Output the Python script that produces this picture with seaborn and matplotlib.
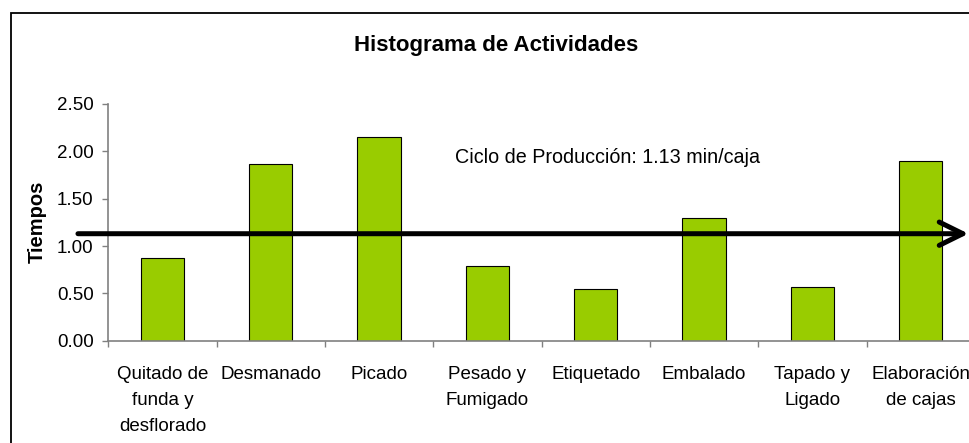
import matplotlib
matplotlib.use("Agg")
import matplotlib.pyplot as plt
from matplotlib.patches import Rectangle
from matplotlib.ticker import FixedLocator, FormatStrFormatter
import seaborn as sns
import pandas as pd

# Activity times (minutes per box)
activities = [
    "Quitado de\nfunda y\ndesflorado",
    "Desmanado",
    "Picado",
    "Pesado y\nFumigado",
    "Etiquetado",
    "Embalado",
    "Tapado y\nLigado",
    "Elaboración\nde cajas",
]
times = [0.87, 1.87, 2.15, 0.79, 0.55, 1.30, 0.57, 1.90]
cycle_time = 1.13
cycle_label = "Ciclo de Producción: 1.13 min/caja"
title = "Histograma de Actividades"
y_label = "Tiempos"
y_ticks = [0.0, 0.5, 1.0, 1.5, 2.0, 2.5]

sns.set_theme(style="white")
plt.rcParams["font.family"] = ["Liberation Sans", "DejaVu Sans"]
plt.rcParams["text.color"] = "black"

df = pd.DataFrame({"actividad": activities, "tiempo": times})

W, H = 970, 443
fig = plt.figure(figsize=(W / 100, H / 100), dpi=100)
ax = fig.add_axes([108.3 / W, (H - 340.7) / H, 866.7 / W, 236.7 / H])

sns.barplot(data=df, x="actividad", y="tiempo", color="#99CC00", saturation=1,
            width=0.4, edgecolor="black", linewidth=0.8, ax=ax, zorder=2)

ax.set_xlim(-0.5, len(activities) - 0.5)
ax.set_ylim(0, 2.5)
ax.set_yticks(y_ticks)
ax.yaxis.set_major_formatter(FormatStrFormatter("%.2f"))
ax.set_xlabel("")
ax.set_ylabel("")

# spines and ticks
for side in ["top", "right"]:
    ax.spines[side].set_visible(False)
for side in ["left", "bottom"]:
    ax.spines[side].set_color("#808080")
    ax.spines[side].set_linewidth(1.2)

ax.tick_params(axis="y", which="major", left=True, length=4.5, width=1,
               color="#808080", pad=6, labelsize=13.5, labelcolor="black")
ax.tick_params(axis="x", which="major", bottom=False, length=0, pad=18,
               labelsize=13.5, labelcolor="black")
ax.xaxis.set_minor_locator(FixedLocator([i - 0.5 for i in range(len(activities) + 1)]))
ax.tick_params(axis="x", which="minor", bottom=True, length=4.5, width=1,
               color="#808080")
for lbl in ax.get_xticklabels():
    lbl.set_linespacing(1.7)
    lbl.set_verticalalignment("top")

# production cycle arrow
ax.annotate("", xy=(7.44, cycle_time), xytext=(-0.78, cycle_time),
            xycoords="data", annotation_clip=False,
            arrowprops=dict(arrowstyle="->, head_length=0.85, head_width=0.42",
                            mutation_scale=20, lw=3.6, color="black",
                            shrinkA=0, shrinkB=0),
            zorder=5)
ax.text(2.70, 1.93, cycle_label, fontsize=14.2, ha="left", va="center", color="black")

fig.text(496.5 / W, 1 - 45 / H, title, fontsize=16, fontweight="bold",
         ha="center", va="center", color="black")
fig.text(37 / W, 1 - 222 / H, y_label, fontsize=14.5, fontweight="bold",
         rotation=90, ha="center", va="center", color="black")

# chart frame
fig.patches.append(Rectangle((11 / W, -0.2), 1.2, 1 - 13 / H + 0.2,
                             transform=fig.transFigure, fill=False,
                             edgecolor="black", linewidth=1.3))

fig.savefig("out.png", dpi=100)
